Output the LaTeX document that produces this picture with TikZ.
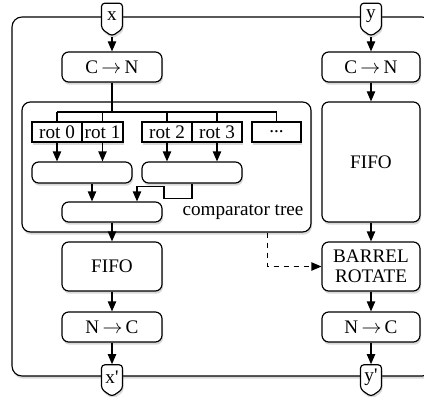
\documentclass[tikz,border=0pt]{standalone}
\usepackage{fontspec}
\setmainfont{Liberation Serif}
\usetikzlibrary{arrows.meta,shadows,shapes.symbols}

\tikzset{
  shd/.style={drop shadow={shadow xshift=.6pt, shadow yshift=-1.6pt, opacity=.3}},
  blk/.style={draw, line width=.7pt, fill=white, rounded corners=4pt,
    align=center, inner sep=1pt, shd},
  rotbox/.style={draw, line width=.7pt, fill=white, inner sep=1pt,
    minimum height=12pt, shd},
  tagbox/.style={draw, line width=.7pt, fill=white, shape=signal,
    signal to=south, signal from=nowhere, signal pointer angle=110,
    rounded corners=2pt, minimum width=12.6pt, minimum height=17.4pt,
    inner sep=0pt, shd},
  arr/.style={line width=.7pt, -{Triangle[length=6pt,width=5pt]}},
}
\newcommand{\cton}{C\,$\rightarrow$\,N}
\newcommand{\ntoc}{N\,$\rightarrow$\,C}

\begin{document}
\begin{tikzpicture}[x=.6pt, y=-.6pt, font=\fontsize{11.5}{12}\selectfont]
\useasboundingbox (0,0) rectangle (424,397);

% outer frame and comparator group
\draw[line width=.7pt, rounded corners=6pt, fill=white, shd]
  (12,17) rectangle (432,376);
\node[blk, rounded corners=5pt, minimum width=173.4pt, minimum height=78pt]
  (tree) at (166.5,167) {};
\node (treelbl) at (243,212) {comparator tree};

% left column
\node[blk, minimum width=60pt, minimum height=18pt] (cnL) at (112,67) {\cton};
\node[blk, minimum width=60pt, minimum height=29.4pt] (fifoL) at (112,266.5) {FIFO};
\node[blk, minimum width=60pt, minimum height=18pt] (ncL) at (112,327) {\ntoc};

% rotations
\node[rotbox, minimum width=30pt] (rot0) at (57,132) {rot 0};
\node[rotbox, minimum width=24.6pt] (rot1) at (102.5,132) {rot 1};
\node[rotbox, minimum width=30pt] (rot2) at (167,132) {rot 2};
\node[rotbox, minimum width=30pt] (rot3) at (217,132) {rot 3};
\node[rotbox, minimum width=29.4pt] (dots) at (276.5,132) {...};

% comparators
\node[blk, minimum width=60pt, minimum height=12.6pt] (cmpA) at (82,172.5) {};
\node[blk, minimum width=60pt, minimum height=12.6pt] (cmpB) at (192,172.5) {};
\node[blk, minimum width=60pt, minimum height=12pt] (cmpC) at (112,212) {};

% right column
\node[blk, minimum width=58.8pt, minimum height=18pt] (cnR) at (371,67) {\cton};
\node[blk, minimum width=58.8pt, minimum height=72pt] (fifoR) at (371,162) {FIFO};
\node[blk, minimum width=58.8pt, minimum height=29.4pt] (barrel) at (371,266.5)
  {BARREL\\ROTATE};
\node[blk, minimum width=58.8pt, minimum height=18pt] (ncR) at (371,327) {\ntoc};

% ports
\node[tagbox] (x) at (112,16) {x};
\node[tagbox] (y) at (371,16) {y};
\node[tagbox] (xo) at (112,377) {x\textquotesingle};
\node[tagbox] (yo) at (371,377) {y\textquotesingle};

% distribution bus
\coordinate (bus) at (112,112);
\draw[line width=.7pt]
  (cnL.south) -- (bus);
\draw[line width=.7pt]
  (rot0.north |- bus) -- (dots.north |- bus);
\foreach \n in {rot0,rot1,rot2,rot3,dots}
  \draw[line width=.7pt] (\n.north |- bus) -- (\n.north);

% comparator tree
\foreach \n/\m in {rot0/cmpA,rot1/cmpA,rot2/cmpB,rot3/cmpB}
  \draw[arr] (\n.south) -- (\n.south |- \m.north);
\coordinate (a1) at ([xshift=6pt]cmpA.south);
\draw[arr]
  (a1) -- (a1 |- cmpC.north);
\draw[arr]
  (cmpB.south) -- ++(0,15) -- ++(-28,0) -- ++(0,-12) -- ++(-27,0)
  coordinate (b1) -- (b1 |- cmpC.north);
\draw[arr]
  (cmpC.south) -- (fifoL.north);

% left data path
\draw[arr] (x.south) -- (cnL.north);
\draw[arr] (fifoL.south) -- (ncL.north);
\draw[arr] (ncL.south) -- (xo.north);

% right data path
\draw[arr] (y.south) -- (cnR.north);
\draw[arr] (cnR.south) -- (fifoR.north);
\draw[arr] (fifoR.south) -- (barrel.north);
\draw[arr] (barrel.south) -- (ncR.north);
\draw[arr] (ncR.south) -- (yo.north);

% rotation amount
\coordinate (d0) at ([xshift=-26.4pt]tree.south east);
\draw[arr, dashed]
  (d0) |- (barrel.west);
\end{tikzpicture}
\end{document}
